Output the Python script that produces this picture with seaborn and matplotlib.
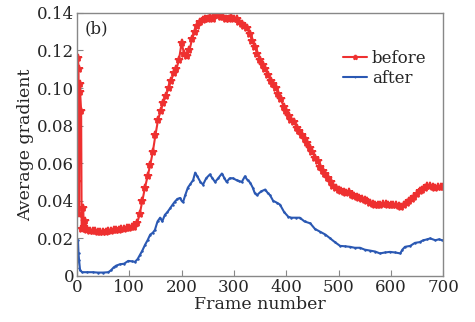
import numpy as np
import matplotlib
matplotlib.use("Agg")
import matplotlib.pyplot as plt
import seaborn as sns

# frame numbers and average gradient
before_frames = [1, 2, 3, 4, 5, 6, 8, 9, 12, 13, 16, 18, 20] + list(range(25, 701, 5))
before_vals = [0.050, 0.116, 0.110, 0.033, 0.102, 0.098, 0.088, 0.025, 0.036, 0.026, 0.029, 0.025, 0.0245,
               0.024, 0.024, 0.0238, 0.0236, 0.0236, 0.0235, 0.0236, 0.0238, 0.024, 0.0242,
               0.0244, 0.0246, 0.0248, 0.025, 0.0253, 0.0256, 0.026, 0.026, 0.028, 0.033,
               0.040, 0.047, 0.053, 0.059, 0.066, 0.075, 0.083, 0.088, 0.092, 0.096,
               0.100, 0.104, 0.108, 0.110, 0.115, 0.124, 0.118, 0.117, 0.120, 0.126,
               0.130, 0.133, 0.135, 0.136, 0.137, 0.137, 0.138, 0.137, 0.139, 0.139,
               0.138, 0.138, 0.137, 0.137, 0.138, 0.137, 0.137, 0.135, 0.134, 0.133,
               0.132, 0.129, 0.125, 0.122, 0.118, 0.115, 0.112, 0.110, 0.107, 0.104,
               0.102, 0.100, 0.097, 0.094, 0.090, 0.088, 0.085, 0.083, 0.082, 0.079,
               0.077, 0.075, 0.073, 0.071, 0.068, 0.066, 0.063, 0.061, 0.058, 0.056,
               0.054, 0.052, 0.050, 0.048, 0.047, 0.0455, 0.045, 0.0445, 0.044, 0.0445,
               0.043, 0.0425, 0.042, 0.0415, 0.041, 0.0405, 0.040, 0.039, 0.0385, 0.038,
               0.0375, 0.0375, 0.0385, 0.0385, 0.038, 0.038, 0.0375, 0.0375, 0.037, 0.0365,
               0.038, 0.039, 0.040, 0.041, 0.042, 0.0435, 0.045, 0.046, 0.047, 0.048,
               0.048, 0.0475, 0.047, 0.0475, 0.0475, 0.0475]

after_frames = [0, 2, 3, 4, 6, 10, 20, 30, 40, 50, 60, 65, 70, 75, 82, 90, 98, 105, 111, 116,
                120, 125, 130, 135, 140, 145, 149, 154, 159, 163, 168, 173, 178, 183, 187, 192,
                197, 200, 203, 207, 212, 217, 222, 226, 230, 236, 241, 247, 254, 259, 264, 270,
                277, 282, 286, 292, 298, 305, 310, 315, 321, 326, 331, 336, 340, 344, 352, 360,
                365, 369, 375, 382, 388, 396, 404, 410, 418, 426, 435, 446, 455, 465, 475, 484,
                493, 503, 512, 522, 531, 541, 550, 560, 570, 579, 589, 598, 608, 618, 622, 627,
                637, 646, 655, 662, 670, 675, 685, 692, 698]
after_vals = [0.004, 0.019, 0.012, 0.0085, 0.003, 0.002, 0.002, 0.002, 0.0018, 0.0018, 0.002,
              0.003, 0.0045, 0.0055, 0.0062, 0.0065, 0.008, 0.0078, 0.0075, 0.009, 0.011, 0.0135,
              0.0165, 0.019, 0.022, 0.023, 0.0245, 0.029, 0.031, 0.029, 0.0325, 0.034, 0.036,
              0.038, 0.0395, 0.041, 0.0415, 0.040, 0.0395, 0.043, 0.047, 0.049, 0.051, 0.055,
              0.053, 0.050, 0.0486, 0.052, 0.054, 0.052, 0.050, 0.052, 0.0545, 0.052, 0.050,
              0.052, 0.052, 0.051, 0.0505, 0.050, 0.053, 0.051, 0.0497, 0.047, 0.044, 0.043,
              0.045, 0.046, 0.044, 0.043, 0.040, 0.039, 0.038, 0.034, 0.0315, 0.031, 0.031,
              0.031, 0.029, 0.028, 0.025, 0.0235, 0.022, 0.020, 0.018, 0.016, 0.0158, 0.0155,
              0.015, 0.015, 0.014, 0.0135, 0.013, 0.012, 0.0125, 0.0128, 0.0125, 0.012, 0.014,
              0.0155, 0.016, 0.0176, 0.018, 0.019, 0.0195, 0.020, 0.019, 0.0195, 0.019]

x_ticks = [0, 100, 200, 300, 400, 500, 600, 700]
y_ticks = [0, 0.02, 0.04, 0.06, 0.08, 0.10, 0.12, 0.14]
y_tick_labels = ["0", "0.02", "0.04", "0.06", "0.08", "0.10", "0.12", "0.14"]

red = '#ee3030'
blue = '#2a58b3'

sns.set_style("ticks")
plt.rcParams['font.family'] = ['DejaVu Serif']

fig = plt.figure(figsize=(4.75, 3.22), dpi=100)
ax = fig.add_axes([0.162, 0.143, 0.771, 0.817])

sns.lineplot(x=before_frames, y=before_vals, ax=ax, color=red, marker='*',
             markersize=6, markeredgecolor=red, markeredgewidth=1.3,
             linewidth=1.5, label='before')
sns.lineplot(x=after_frames, y=after_vals, ax=ax, color=blue, marker='.',
             markersize=2, markeredgecolor=blue, linewidth=1.5, label='after')

ax.set_xlim(0, 700)
ax.set_ylim(0, 0.14)
ax.set_xticks(x_ticks)
ax.set_yticks(y_ticks)
ax.set_yticklabels(y_tick_labels)
ax.tick_params(direction='in', length=4, color='#888888', labelsize=12, pad=2)
for sp in ax.spines.values():
    sp.set_visible(True)
    sp.set_color('#888888')
    sp.set_linewidth(1.0)

ax.set_xlabel('Frame number', fontsize=12.5, labelpad=0)
ax.set_ylabel('Average gradient', fontsize=12.5, labelpad=2)
ax.text(0.02, 0.97, '(b)', transform=ax.transAxes, fontsize=12, va='top', ha='left')

leg = ax.legend(loc='upper right', bbox_to_anchor=(0.995, 0.915), frameon=False,
                fontsize=12, handlelength=1.4, handletextpad=0.3, labelspacing=0.15,
                markerscale=0.6)

fig.savefig('out.png', dpi=100)
